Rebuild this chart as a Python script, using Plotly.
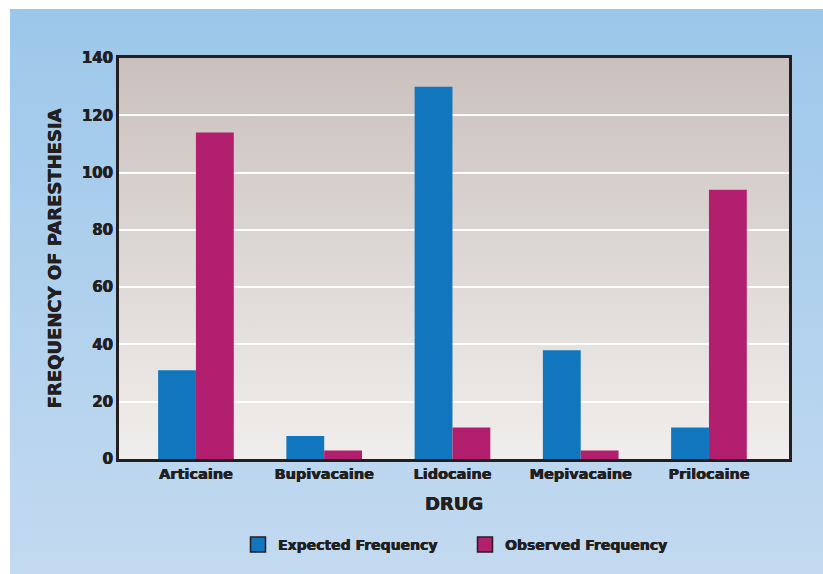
import base64
import plotly.graph_objects as go

drugs = ["Articaine", "Bupivacaine", "Lidocaine", "Mepivacaine", "Prilocaine"]
expected = [31, 8, 130, 38, 11]
observed = [114, 3, 11, 3, 94]
series_names = ["Expected Frequency", "Observed Frequency"]
y_ticks = [0, 20, 40, 60, 80, 100, 120, 140]

BLUE = "#1276BE"
MAGENTA = "#B31F6F"
INK = "#231F20"
FONT = "'DejaVu Sans', sans-serif"
SHADOW = "0.45px 0 0 #231F20, -0.2px 0 0 #231F20"

W, H = 823, 574
L, R, T, B = 119, 34, 58, 115
pw, ph = W - L - R, H - T - B


def grad_uri(top, bottom):
    svg = (
        '<svg xmlns="http://www.w3.org/2000/svg" width="100" height="100" '
        'viewBox="0 0 100 100" preserveAspectRatio="none">'
        '<defs><linearGradient id="g" x1="0" y1="0" x2="0" y2="1">'
        f'<stop offset="0" stop-color="{top}"/><stop offset="1" stop-color="{bottom}"/>'
        '</linearGradient></defs><rect width="100" height="100" fill="url(#g)"/></svg>'
    )
    return "data:image/svg+xml;base64," + base64.b64encode(svg.encode()).decode()


def px_x(p):
    return (p - L) / pw


def px_y(p):
    return (H - B - p) / ph


def fnt(size):
    return dict(size=size, family=FONT, color=INK, weight="bold", shadow=SHADOW)


fig = go.Figure()
fig.add_trace(go.Bar(x=drugs, y=expected, name=series_names[0], marker_color=BLUE,
                     marker_line_width=0, showlegend=False))
fig.add_trace(go.Bar(x=drugs, y=observed, name=series_names[1], marker_color=MAGENTA,
                     marker_line_width=0, showlegend=False))
# legend keys
for nm, col in zip(series_names, [BLUE, MAGENTA]):
    fig.add_trace(go.Scatter(x=[None], y=[None], mode="markers", name=nm,
                             marker=dict(symbol="square", size=15, color=col,
                                         line=dict(color=INK, width=1.5))))

images = [
    dict(source=grad_uri("#9CC7EA", "#C3DAF0"), xref="paper", yref="paper",
         x=px_x(10), y=px_y(9), sizex=(W - 10) / pw, sizey=(H - 9) / ph,
         xanchor="left", yanchor="top", sizing="stretch", layer="below"),
    dict(source=grad_uri("#CAC1BE", "#F0EEEC"), xref="paper", yref="paper",
         x=0, y=1, sizex=1, sizey=1, xanchor="left", yanchor="top",
         sizing="stretch", layer="below"),
]

fig.update_layout(
    width=W, height=H,
    margin=dict(l=L, r=R, t=T, b=B),
    paper_bgcolor="white", plot_bgcolor="rgba(0,0,0,0)",
    images=images,
    barmode="group", bargap=0.41, bargroupgap=0,
    font=fnt(14),
    legend=dict(orientation="h", x=px_x(465), xanchor="center", y=px_y(545), yanchor="middle",
                font=fnt(14), bgcolor="rgba(0,0,0,0)", itemwidth=30, tracegroupgap=0,
                entrywidth=182, entrywidthmode="pixels"),
    xaxis=dict(range=[-0.6, 4.624], showline=True, mirror=True, linewidth=3, linecolor=INK,
               showgrid=False, ticks="", tickfont=fnt(14.5),
               title=dict(text="DRUG", font=fnt(18), standoff=16)),
    yaxis=dict(range=[0, 140], tickvals=y_ticks, showline=True, mirror=True, linewidth=3,
               linecolor=INK, showgrid=True, gridcolor="white", gridwidth=2, zeroline=False,
               ticks="", tickfont=fnt(15),
               title=dict(text="FREQUENCY OF PARESTHESIA", font=fnt(18), standoff=16)),
)

fig.write_html("out.html")
